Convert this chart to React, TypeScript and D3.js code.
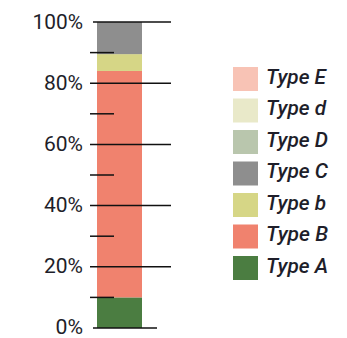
import React from "react";
import * as d3 from "d3";

const categories = ["Type A", "Type B", "Type b", "Type C", "Type D", "Type d", "Type E"];
const values = [10, 74, 5.5, 10.5, 0, 0, 0];
const colors = ["#4b7d41", "#f0826e", "#d6d686", "#8e8e8e", "#b9c6ad", "#e9e9c9", "#f8c3b5"];
const majorTicks = [0, 20, 40, 60, 80, 100];
const minorTicks = [10, 30, 50, 70, 90];

export default function App() {
  const y = d3.scaleLinear().domain([0, 100]).range([328, 22]);
  const stack = d3.stack<Record<string, number>>().keys(categories)([
    Object.fromEntries(categories.map((c, i) => [c, values[i]])),
  ]);
  const legendOrder = [...categories].reverse();
  const ly = d3.scalePoint<string>().domain(legendOrder).range([67, 256]);
  const font = "Roboto, 'DejaVu Sans', sans-serif";
  return (
    <svg width={347} height={338} style={{ position: "absolute", left: 0, top: 0, background: "#fff" }}>
      {stack.map((s, i) => (
        <rect key={categories[i]} x={97} width={45} y={y(s[0][1])} height={y(s[0][0]) - y(s[0][1])} fill={colors[i]} />
      ))}
      {majorTicks.map((t) => {
        const label = `${t}%`;
        return (
          <g key={t}>
            <line
              x1={t === 0 || t === 100 ? 93 : 90}
              x2={t === 0 ? 157 : 171}
              y1={y(t)}
              y2={y(t)}
              stroke="#111"
              strokeWidth={1.5}
            />
            <text
              x={83}
              y={y(t) - (t === 0 ? 2 : 1)}
              dy="0.36em"
              textAnchor="end"
              fontFamily={font}
              fontSize={21}
              fill="#1e1e2a"
              textLength={(label.length - 1) * 11.5 + 16}
              lengthAdjust="spacingAndGlyphs"
            >
              {label}
            </text>
          </g>
        );
      })}
      {minorTicks.map((t) => (
        <line key={t} x1={90} x2={114} y1={y(t)} y2={y(t)} stroke="#111" strokeWidth={1.5} />
      ))}
      {legendOrder.map((c) => {
        const i = categories.indexOf(c);
        const top = ly(c) as number;
        return (
          <g key={c}>
            <rect x={233} y={top} width={25} height={24} fill={colors[i]} />
            <text
              x={266}
              y={top + 16.5}
              fontFamily={font}
              fontStyle="italic"
              fontWeight={500}
              fontSize={21}
              fill="#1e1e2a"
              textLength={c.endsWith("d") || c.endsWith("b") || c.endsWith("E") ? 60 : 62}
              lengthAdjust="spacingAndGlyphs"
            >
              {c}
            </text>
          </g>
        );
      })}
    </svg>
  );
}
